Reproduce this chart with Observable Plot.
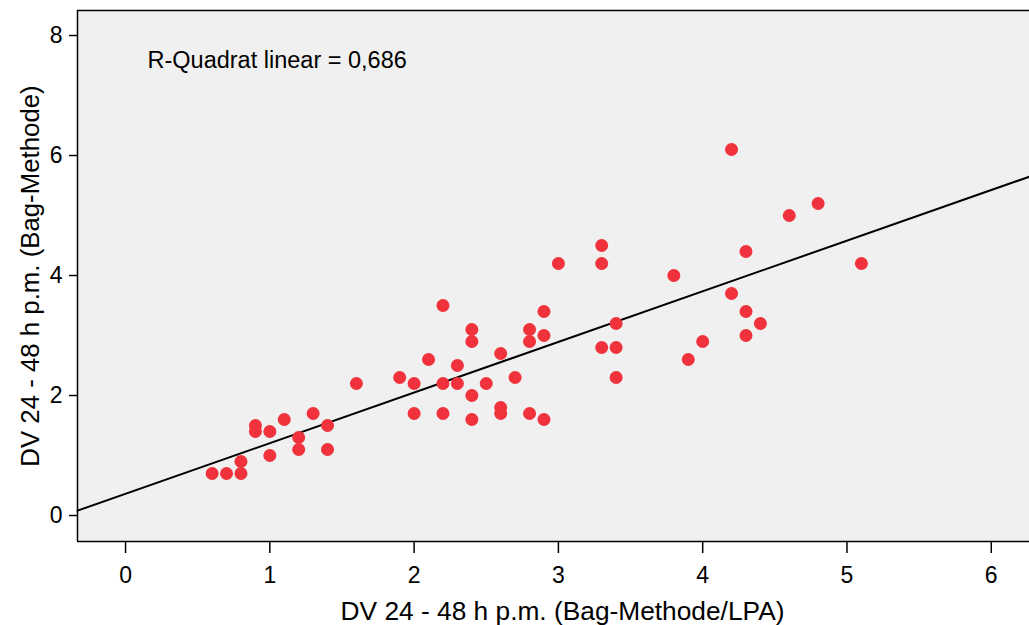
<!DOCTYPE html>
<html>
<head>
<meta charset="utf-8">
<script src="https://cdn.jsdelivr.net/npm/d3@7"></script>
<script src="https://cdn.jsdelivr.net/npm/@observablehq/plot@0.6"></script>
<style>
  html, body { margin: 0; padding: 0; background: #ffffff; }
  #chart svg { display: block; }
</style>
</head>
<body>
<div id="chart"></div>
<script>
// ---- Data ----
const xValues = [
  0.6, 0.7, 0.8, 0.8, 0.9, 0.9, 1.0, 1.0, 1.1, 1.2, 1.2, 1.3, 1.4, 1.4,
  1.6, 1.9, 2.0, 2.0, 2.1, 2.2, 2.2, 2.2, 2.3, 2.3, 2.4, 2.4, 2.4, 2.4,
  2.5, 2.6, 2.6, 2.6, 2.7, 2.8, 2.8, 2.8, 2.9, 2.9, 2.9, 3.0, 3.3, 3.3,
  3.3, 3.4, 3.4, 3.4, 3.8, 3.9, 4.0, 4.2, 4.2, 4.3, 4.3, 4.3, 4.4, 4.6,
  4.8, 5.1
];
const yValues = [
  0.7, 0.7, 0.7, 0.9, 1.5, 1.4, 1.4, 1.0, 1.6, 1.3, 1.1, 1.7, 1.5, 1.1,
  2.2, 2.3, 2.2, 1.7, 2.6, 3.5, 2.2, 1.7, 2.5, 2.2, 3.1, 2.9, 2.0, 1.6,
  2.2, 2.7, 1.8, 1.7, 2.3, 3.1, 2.9, 1.7, 3.4, 3.0, 1.6, 4.2, 4.5, 4.2,
  2.8, 3.2, 2.8, 2.3, 4.0, 2.6, 2.9, 6.1, 3.7, 4.4, 3.4, 3.0, 3.2, 5.0,
  5.2, 4.2
];
const xTicks = [0, 1, 2, 3, 4, 5, 6];
const yTicks = [0, 2, 4, 6, 8];
const xDomain = [-0.333, 6.265];
const yDomain = [-0.433, 8.417];
const rSquaredLabel = "R-Quadrat linear = 0,686";
const xLabel = "DV 24 - 48 h p.m. (Bag-Methode/LPA)";
const yLabel = "DV 24 - 48 h p.m. (Bag-Methode)";

// ---- Derived ----
const data = xValues.map((x, i) => ({x, y: yValues[i]}));
const mx = d3.mean(xValues), my = d3.mean(yValues);
const slope = d3.sum(data, d => (d.x - mx) * (d.y - my)) / d3.sum(data, d => (d.x - mx) ** 2);
const intercept = my - slope * mx;
const fit = xDomain.map(x => ({x, y: intercept + slope * x}));

const font = "'Liberation Sans', Arial, Helvetica, sans-serif";
const intFmt = d3.format("d");

const chart = Plot.plot({
  width: 1029,
  height: 625,
  marginLeft: 77,
  marginTop: 10,
  marginRight: 0,
  marginBottom: 84,
  style: {fontFamily: font, fontSize: "23px", color: "#000", background: "#ffffff", overflow: "visible"},
  x: {domain: xDomain, ticks: xTicks},
  y: {domain: yDomain, ticks: yTicks},
  marks: [
    Plot.frame({fill: "#f0f0f0", stroke: null}),
    Plot.ruleX([xDomain[0]], {stroke: "#000", strokeWidth: 1.5}),
    Plot.ruleY([yDomain[0], yDomain[1]], {stroke: "#000", strokeWidth: 1.5}),
    Plot.axisX(xTicks, {tickSize: 12, tickPadding: 13, tickFormat: intFmt, label: null, fontSize: 23, stroke: "#000", strokeWidth: 1.5, color: "#000"}),
    Plot.axisY(yTicks, {tickSize: 8, tickPadding: 7, tickFormat: intFmt, label: null, fontSize: 23, stroke: "#000", strokeWidth: 1.5, color: "#000"}),
    Plot.line(fit, {x: "x", y: "y", stroke: "#000", strokeWidth: 2}),
    Plot.dot(data, {x: "x", y: "y", r: 6.5, fill: "#f0323c", stroke: null}),
    Plot.text([rSquaredLabel], {frameAnchor: "top-left", dx: 70, dy: 50, textAnchor: "start", lineAnchor: "middle", fontSize: 23.5, fill: "#000"}),
    Plot.text([xLabel], {frameAnchor: "bottom", dx: 9, dy: 70, textAnchor: "middle", lineAnchor: "middle", fontSize: 26.3, fill: "#000"}),
    Plot.text([yLabel], {frameAnchor: "left", dx: -47, rotate: -90, textAnchor: "middle", lineAnchor: "middle", fontSize: 25.8, fill: "#000"})
  ]
});
document.getElementById("chart").appendChild(chart);
</script>
</body>
</html>
